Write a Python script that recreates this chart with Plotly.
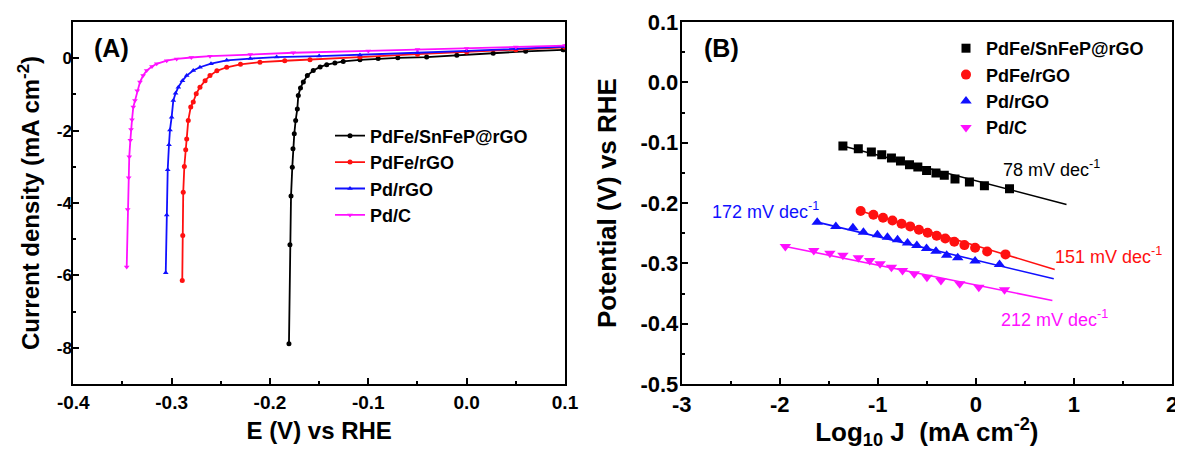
import plotly.graph_objects as go

FONT = "Arial, 'Liberation Sans', sans-serif"

# ---------------- Panel A : polarisation curves ----------------
names = ["PdFe/SnFeP@rGO", "PdFe/rGO", "Pd/rGO", "Pd/C"]
colors = ["#000000", "#ff1010", "#1010ff", "#ff10ff"]
symbols_a = ["circle", "circle", "triangle-up", "triangle-down"]

E_pdfe_snfep = [-0.1807, -0.1797, -0.1786, -0.1773, -0.1766, -0.1753, -0.1739, -0.1722, -0.1712,
                -0.1690, -0.1661, -0.1620, -0.1560, -0.1490, -0.1423, -0.1340, -0.1255, -0.1085,
                -0.0900, -0.0700, -0.0407, -0.0100, 0.0270, 0.0600, 0.0980]
J_pdfe_snfep = [-7.89, -5.15, -3.81, -3.01, -2.50, -2.09, -1.72, -1.40, -1.03,
                -0.82, -0.66, -0.48, -0.34, -0.24, -0.18, -0.13, -0.09, -0.045,
                -0.01, 0.01, 0.03, 0.08, 0.14, 0.19, 0.23]

E_pdfe_rgo = [-0.2892, -0.2887, -0.2882, -0.2871, -0.2857, -0.2847, -0.2831, -0.2806, -0.2780,
              -0.2750, -0.2712, -0.2660, -0.2610, -0.2540, -0.2440, -0.2300, -0.2102, -0.1850,
              -0.1593, -0.1085, -0.0500, 0.0000, 0.0500, 0.1000]
J_pdfe_rgo = [-6.14, -4.90, -3.70, -2.99, -2.53, -2.23, -1.72, -1.35, -1.21,
              -0.98, -0.80, -0.62, -0.48, -0.35, -0.25, -0.17, -0.11, -0.07,
              -0.04, 0.03, 0.11, 0.17, 0.23, 0.30]

E_pd_rgo = [-0.3060, -0.3050, -0.3040, -0.3027, -0.3017, -0.3000, -0.2983, -0.2960, -0.2932,
            -0.2890, -0.2847, -0.2780, -0.2712, -0.2600, -0.2440, -0.2200, -0.1932, -0.1500,
            -0.1085, -0.0500, 0.0000, 0.0500, 0.1000]
J_pd_rgo = [-5.93, -4.33, -3.08, -2.39, -1.98, -1.63, -1.17, -0.97, -0.80,
            -0.62, -0.48, -0.34, -0.25, -0.15, -0.06, -0.01, 0.03, 0.06,
            0.09, 0.15, 0.20, 0.26, 0.32]

E_pd_c = [-0.3457, -0.3447, -0.3437, -0.3431, -0.3420, -0.3413, -0.3403, -0.3390, -0.3373,
          -0.3350, -0.3322, -0.3290, -0.3254, -0.3200, -0.3152, -0.3050, -0.2949, -0.2800,
          -0.2610, -0.2200, -0.1763, -0.1000, -0.0500, 0.0000, 0.0500, 0.1000]
J_pd_c = [-5.77, -4.18, -3.30, -2.72, -2.27, -1.97, -1.70, -1.35, -1.17,
          -0.90, -0.66, -0.48, -0.34, -0.23, -0.155, -0.07, -0.02, 0.02,
          0.055, 0.10, 0.15, 0.20, 0.24, 0.27, 0.31, 0.35]

E_all = [E_pdfe_snfep, E_pdfe_rgo, E_pd_rgo, E_pd_c]
J_all = [J_pdfe_snfep, J_pdfe_rgo, J_pd_rgo, J_pd_c]

# tick labels
xa_ticks = [-0.4, -0.3, -0.2, -0.1, 0.0, 0.1]
xa_labels = ["-0.4", "-0.3", "-0.2", "-0.1", "0.0", "0.1"]
ya_ticks = [0, -2, -4, -6, -8]
ya_labels = ["0", "-2", "-4", "-6", "-8"]
xb_ticks = [-3, -2, -1, 0, 1, 2]
xb_labels = ["-3", "-2", "-1", "0", "1", "2"]
yb_ticks = [0.1, 0.0, -0.1, -0.2, -0.3, -0.4, -0.5]
yb_labels = ["0.1", "0.0", "-0.1", "-0.2", "-0.3", "-0.4", "-0.5"]

# ---------------- Panel B : Tafel plots ----------------
symbols_b = ["square", "circle", "triangle-up", "triangle-down"]

logJ_pdfe_snfep = [-1.356, -1.199, -1.066, -0.960, -0.861, -0.769, -0.677, -0.592, -0.503,
                   -0.407, -0.322, -0.213, -0.066, 0.087, 0.343]
V_pdfe_snfep = [-0.1056, -0.1100, -0.1156, -0.1200, -0.1255, -0.1305, -0.1365, -0.1405, -0.1460,
                -0.1504, -0.1542, -0.1604, -0.1653, -0.1713, -0.1763]

logJ_pdfe_rgo = [-1.175, -1.045, -0.947, -0.851, -0.758, -0.670, -0.581, -0.492, -0.400,
                 -0.312, -0.220, -0.117, -0.008, 0.115, 0.302]
V_pdfe_rgo = [-0.2134, -0.2194, -0.2244, -0.2289, -0.2343, -0.2388, -0.2443, -0.2493, -0.2542,
              -0.2587, -0.2642, -0.2698, -0.2741, -0.2803, -0.2852]

logJ_pd_rgo = [-1.618, -1.428, -1.254, -1.147, -1.004, -0.902, -0.799, -0.697, -0.602,
               -0.503, -0.407, -0.298, -0.185, -0.008, 0.241]
V_pd_rgo = [-0.2317, -0.2388, -0.2410, -0.2483, -0.2526, -0.2566, -0.2609, -0.2665, -0.2703,
            -0.2753, -0.2798, -0.2864, -0.2907, -0.2963, -0.3018]

logJ_pd_c = [-1.943, -1.653, -1.489, -1.356, -1.199, -1.083, -0.977, -0.861, -0.748,
             -0.629, -0.499, -0.356, -0.165, 0.030, 0.292]
V_pd_c = [-0.2720, -0.2786, -0.2831, -0.2864, -0.2907, -0.2952, -0.3007, -0.3063, -0.3118,
          -0.3172, -0.3229, -0.3284, -0.3338, -0.3395, -0.3438]

# linear-fit segments (start/end)
fit_x = [[-1.356, 0.924], [-1.175, 0.804], [-1.618, 0.794], [-1.943, 0.780]]
fit_y = [[-0.1056, -0.2024], [-0.2134, -0.3101], [-0.2317, -0.3256], [-0.2720, -0.3615]]

slope_labels = ["78 mV dec<sup>-1</sup>", "151 mV dec<sup>-1</sup>",
                "172 mV dec<sup>-1</sup>", "212 mV dec<sup>-1</sup>"]
slope_pos_x = [0.77, 1.35, -2.15, 0.80]
slope_pos_y = [-0.1426, -0.287, -0.2126, -0.3919]
slope_colors = ["#000000", "#ff1010", "#1010ff", "#ff10ff"]

logJ_all = [logJ_pdfe_snfep, logJ_pdfe_rgo, logJ_pd_rgo, logJ_pd_c]
V_all = [V_pdfe_snfep, V_pdfe_rgo, V_pd_rgo, V_pd_c]

fig = go.Figure()

for i in range(4):
    fig.add_trace(go.Scatter(
        x=E_all[i], y=J_all[i], mode="lines+markers", name=names[i],
        line=dict(color=colors[i], width=1.8),
        marker=dict(symbol=symbols_a[i], size=5, color=colors[i]),
        xaxis="x", yaxis="y", legend="legend"))

for i in range(4):
    fig.add_trace(go.Scatter(
        x=fit_x[i], y=fit_y[i], mode="lines", showlegend=False,
        line=dict(color=colors[i], width=1.6), xaxis="x2", yaxis="y2"))
for i in range(4):
    fig.add_trace(go.Scatter(
        x=logJ_all[i], y=V_all[i], mode="markers", name=names[i],
        marker=dict(symbol=symbols_b[i], size=10 if i else 9, color=colors[i]),
        xaxis="x2", yaxis="y2", legend="legend2"))


def bold(labels):
    return ["<b>%s</b>" % s for s in labels]


# the page body has an 8 px margin, so the figure is 8 px smaller each way
W, H = 1175, 442


def px(x):  # target page pixel -> paper x
    return (x - 8) / W


def py(y):  # target page pixel -> paper y
    return (384 - y) / 362


axis_common = dict(showline=True, linecolor="black", linewidth=2, mirror=True,
                   ticks="inside", ticklen=6, tickwidth=2, tickcolor="black",
                   showgrid=False, zeroline=False, automargin=False, tickmode="array")

fig.update_layout(
    width=W, height=H,
    margin=dict(l=0, r=0, t=14, b=66),
    paper_bgcolor="white", plot_bgcolor="white",
    font=dict(family=FONT, color="black"),
    xaxis=dict(domain=[px(73.3), px(565)], range=[-0.4, 0.1], anchor="y",
               tickvals=xa_ticks, ticktext=bold(xa_labels),
               minor=dict(ticks="inside", ticklen=3, tickwidth=2, tickcolor="black",
                          tickvals=[-0.35, -0.25, -0.15, -0.05, 0.05]),
               tickfont=dict(size=19),
               title=dict(text="<b>E (V) vs RHE</b>", font=dict(size=24), standoff=10),
               **axis_common),
    yaxis=dict(domain=[0, 1], range=[-9, 1], anchor="x",
               tickvals=ya_ticks, ticktext=bold(ya_labels), ticklabelstandoff=-4,
               minor=dict(ticks="inside", ticklen=3, tickwidth=2, tickcolor="black",
                          tickvals=[-1, -3, -5, -7]),
               tickfont=dict(size=17),
               title=dict(text="<b>Current density (mA cm<sup>-2</sup>)</b>",
                          font=dict(size=24), standoff=10),
               **axis_common),
    xaxis2=dict(domain=[px(681.7), px(1172)], range=[-3, 2], anchor="y2",
                tickvals=xb_ticks, ticktext=bold(xb_labels),
                minor=dict(ticks="inside", ticklen=3, tickwidth=2, tickcolor="black",
                           tickvals=[-2.5, -1.5, -0.5, 0.5, 1.5]),
                tickfont=dict(size=22),
                title=dict(text="<b>Log<sub>10</sub> J &nbsp;(mA cm<sup>-2</sup>)</b>",
                           font=dict(size=26), standoff=2),
                **axis_common),
    yaxis2=dict(domain=[0, 1], range=[-0.5, 0.1], anchor="x2",
                tickvals=yb_ticks, ticktext=bold(yb_labels), ticklabelstandoff=-3,
                minor=dict(ticks="inside", ticklen=3, tickwidth=2, tickcolor="black",
                           tickvals=[0.05, -0.05, -0.15, -0.25, -0.35, -0.45]),
                tickfont=dict(size=22),
                title=dict(text="<b>Potential (V) vs RHE</b>", font=dict(size=26), standoff=16),
                **axis_common),
    legend=dict(x=px(330), y=py(117.5), xanchor="left", yanchor="top", bgcolor="rgba(0,0,0,0)",
                font=dict(size=18, weight="bold"), itemwidth=30, tracegroupgap=0),
    legend2=dict(x=px(946), y=py(30), xanchor="left", yanchor="top", bgcolor="rgba(0,0,0,0)",
                 font=dict(size=18, weight="bold"), itemwidth=30, tracegroupgap=0),
)

annotations = [
    dict(text="<b>(A)</b>", x=px(111), y=py(48), xref="paper", yref="paper",
         xanchor="center", yanchor="middle",
         showarrow=False, font=dict(size=25, family=FONT)),
    dict(text="<b>(B)</b>", x=px(721), y=py(48), xref="paper", yref="paper",
         xanchor="center", yanchor="middle",
         showarrow=False, font=dict(size=25, family=FONT)),
]
for i in range(4):
    annotations.append(dict(text=slope_labels[i], x=slope_pos_x[i], y=slope_pos_y[i],
                            xref="x2", yref="y2", showarrow=False,
                            xanchor="center", yanchor="middle",
                            font=dict(size=18, family=FONT, color=slope_colors[i])))
fig.update_layout(annotations=annotations)

fig.write_html("out.html")
